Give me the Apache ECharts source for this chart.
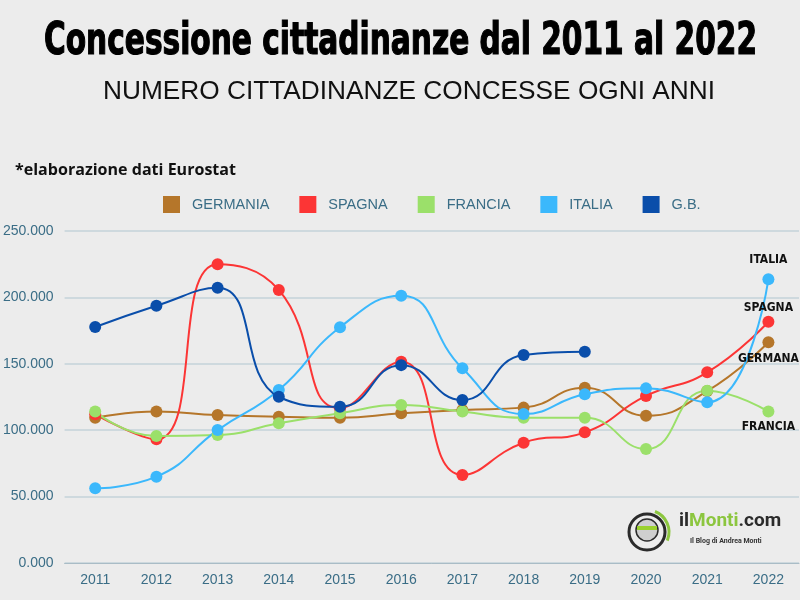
<!DOCTYPE html>
<html><head><meta charset="utf-8">
<script src="https://cdn.jsdelivr.net/npm/echarts@6/dist/echarts.min.js"></script>
<style>html,body{margin:0;padding:0;background:#ececec;}#c{width:800px;height:600px;}</style>
</head><body><div id="c"></div>
<script>
const years = ['2011','2012','2013','2014','2015','2016','2017','2018','2019','2020','2021','2022'];
const germania = [109400,114000,111400,110200,109400,112700,115200,117000,132000,110900,129500,166200];
const spagna   = [112000,93100,225000,205600,116500,151600,66300,90600,98400,125800,143600,181700];
const francia  = [114000,95600,96400,105200,112700,119000,114000,109400,109400,85800,129800,114000];
const italia   = [56200,65000,100100,130300,177500,201300,146600,112200,127000,131500,121000,213600];
const gb       = [177700,193700,207300,125200,117700,149000,122700,156600,159100,null,null,null];
const yTicks = [0,50000,100000,150000,200000,250000];
const endLabels = {GERMANIA:'GERMANA', SPAGNA:'SPAGNA', FRANCIA:'FRANCIA', ITALIA:'ITALIA'};

const cv = document.createElement('canvas').getContext('2d');
function fitText(text, font, target) {
  cv.font = font;
  return target / cv.measureText(text).width;
}
const titleText = 'Concessione cittadinanze dal 2011 al 2022';
const titleFont = 'bold 44px "DejaVu Sans Condensed", "DejaVu Sans"';
const subText = 'NUMERO CITTADINANZE CONCESSE OGNI ANNI';
const subFont = '25px "Liberation Sans"';
const noteText = '*elaborazione dati Eurostat';
const noteFont = 'bold 16px "Open Sans"';

const chart = echarts.init(document.getElementById('c'));
const teal = '#3a6d86';
const endFont = '"DejaVu Sans Condensed", "DejaVu Sans", sans-serif';
const endCfg = {GERMANIA: ['bottom', 5], SPAGNA: ['top', 2], FRANCIA: ['bottom', 3], ITALIA: ['top', 7]};
function mk(name, data, color) {
  const d = data.map((v, i) => {
    if (i === data.length - 1 && endLabels[name]) {
      return {value: v, label: {show: true, formatter: endLabels[name], position: endCfg[name][0], distance: endCfg[name][1],
        fontFamily: endFont, fontWeight: 'bold', fontSize: 12, color: '#111'}};
    }
    return v;
  });
  return {name, type: 'line', data: d, smooth: 0.5, symbol: 'circle', symbolSize: 12,
    lineStyle: {color, width: 2}, itemStyle: {color}, connectNulls: false, z: 3};
}
chart.setOption({
  backgroundColor: '#ececec',
  animation: false,
  legend: {left: 158, top: 191, icon: 'rect', itemWidth: 17, itemHeight: 17, itemGap: 30,
    textStyle: {color: teal, fontSize: 14.5, padding: [0, 0, 0, 7], fontFamily: 'Liberation Sans, Arial, sans-serif'},
    data: ['GERMANIA','SPAGNA','FRANCIA','ITALIA','G.B.']},
  grid: {left: 64, right: 1, top: 231, bottom: 37},
  xAxis: {type: 'category', data: years, boundaryGap: true,
    axisLine: {lineStyle: {color: '#a9bcc6'}}, axisTick: {show: false},
    axisLabel: {color: teal, fontSize: 14, margin: 10, fontFamily: 'Liberation Sans, Arial, sans-serif'}},
  yAxis: {type: 'value', min: yTicks[0], max: yTicks[yTicks.length-1], interval: 50000,
    axisLine: {show: false}, axisTick: {show: false},
    splitLine: {lineStyle: {color: '#c5d3da', width: 1.5}},
    axisLabel: {color: teal, fontSize: 14, margin: 11, fontFamily: 'Liberation Sans, Arial, sans-serif',
      formatter: v => (v/1000).toFixed(3)}},
  series: [
    mk('GERMANIA', germania, '#b5762a'),
    mk('SPAGNA', spagna, '#fc3535'),
    mk('FRANCIA', francia, '#9be06a'),
    mk('ITALIA', italia, '#3bb8fc'),
    mk('G.B.', gb, '#0a4eaa')
  ],
  graphic: [
    {type: 'text', x: 400.5, y: 65, scaleX: fitText(titleText, titleFont, 713),
     style: {text: titleText, font: titleFont, fill: '#000', stroke: '#000', lineWidth: 1.2, align: 'center', verticalAlign: 'bottom'}},
    {type: 'text', x: 409, y: 105, scaleX: fitText(subText, subFont, 612),
     style: {text: subText, font: subFont, fill: '#111', align: 'center', verticalAlign: 'bottom'}},
    {type: 'text', x: 15, y: 178, scaleX: fitText(noteText, noteFont, 221),
     style: {text: noteText, font: noteFont, fill: '#111', align: 'left', verticalAlign: 'bottom'}},
    {type: 'circle', shape: {cx: 647, cy: 532, r: 18}, style: {fill: 'none', stroke: '#2b2b2b', lineWidth: 3}},
    {type: 'arc', shape: {cx: 647, cy: 532, r: 22, startAngle: -1.2, endAngle: 0.4}, style: {fill: 'none', stroke: '#8cc63f', lineWidth: 3}},
    {type: 'circle', shape: {cx: 647, cy: 530, r: 11}, style: {fill: '#cfcfcf', stroke: '#2b2b2b', lineWidth: 1.5}},
    {type: 'rect', shape: {x: 637, y: 526, width: 20, height: 4}, style: {fill: '#9ad12e'}},
    {type: 'text', left: 679, top: 512, style: {text: '{a|il}{b|Monti}{a|.com}', rich: {
      a: {fontFamily: 'Roboto, sans-serif', fontWeight: 'bold', fontSize: 19, fill: '#2b2b2b'},
      b: {fontFamily: 'Roboto, sans-serif', fontWeight: 'bold', fontSize: 19, fill: '#8cc63f'}}}},
    {type: 'text', left: 690, top: 538, style: {text: 'Il Blog di Andrea Monti', fontFamily: 'Roboto, sans-serif', fontWeight: 'bold', fontSize: 7, fill: '#333'}}
  ]
});
</script></body></html>
